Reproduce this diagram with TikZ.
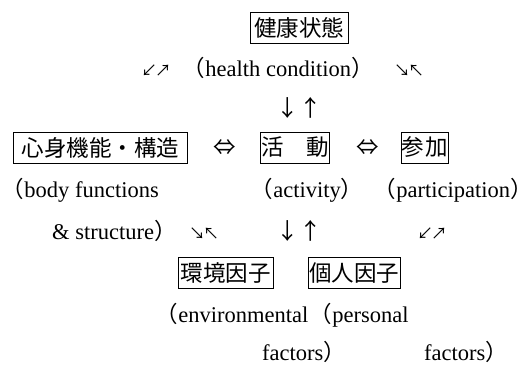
\documentclass[tikz,border=0pt]{standalone}
\usepackage{fontspec}
\setmainfont{Liberation Serif}
\newfontfamily\cjk{Noto Sans CJK JP}
\newcommand\lpar{{\cjk\kern-0.5em（}}
\newcommand\rpar{{\cjk ）\kern-0.35em}}
\begin{document}
\begin{tikzpicture}[x=1pt,y=-1pt,
  box/.style={draw, line width=0.9pt, inner sep=0pt, minimum height=31pt,
    font=\cjk\fontsize{22.5}{27}\selectfont, anchor=west},
  lat/.style={inner sep=0pt, anchor=base west, font=\fontsize{22.5}{27}\selectfont},
  varr/.style={inner sep=0pt, anchor=base, font=\cjk\fontsize{22.5}{27}\selectfont},
  darr/.style={inner sep=0pt, anchor=base, font=\cjk\fontsize{16}{19}\selectfont}]
\useasboundingbox (0,0) rectangle (528,365);
% boxes
\node[box, minimum width=98pt] (hc) at (250,27.5) {健康状態};
\node[box, minimum width=174pt] (bf) at (13,147.5) {心身機能・構造};
\node[box, minimum width=69pt] (act) at (260,147.5) {活　動};
\node[box, minimum width=47pt] (par) at (401,147.5) {参\hspace{1pt}加};
\node[box, minimum width=95pt] (env) at (178,273) {環境因子};
\node[box, minimum width=92pt] (per) at (308,273) {個人因子};
% row 2
\node[darr] (a1) at (156,76) {↙\kern-2pt↗};
\node[lat] (t1) at (194,76) {\lpar health condition\rpar};
\node[darr] (a2) at (409,76) {↘\kern-2pt↖};
% row 3
\node[varr] (a3) at (299,116) {↓↑};
% row 4
\node[varr] (a4) at (225,155.5) {⇔};
\node[varr] (a5) at (368,155.5) {⇔};
% row 5
\node[lat] (t2) at (13,197) {\lpar body functions};
\node[lat] (t3) at (262,197) {\lpar activity\rpar};
\node[lat] (t4) at (385,197) {\lpar participation\rpar};
% row 6
\node[lat] (t5) at (52,239) {\& structure\rpar};
\node[darr] (a6) at (204,239) {↘\kern-2pt↖};
\node[varr] (a7) at (299,239) {↓↑};
\node[darr] (a8) at (432,239) {↙\kern-2pt↗};
% row 8
\node[lat] (t6) at (167,322) {\lpar environmental};
\node[lat] (t7) at (321,322) {\lpar personal};
% row 9
\node[lat] (t8) at (262,360) {factors\rpar};
\node[lat] (t9) at (424,360) {factors\rpar};
\end{tikzpicture}
\end{document}
